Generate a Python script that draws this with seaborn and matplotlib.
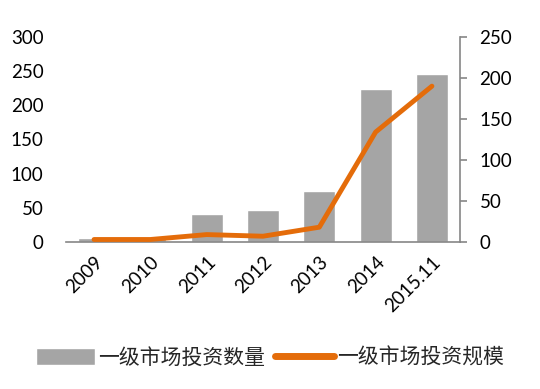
import numpy as np
import pandas as pd
import matplotlib
matplotlib.use("Agg")
import matplotlib.pyplot as plt
import seaborn as sns

sns.set_theme(style="white")
plt.rcParams['font.family'] = ['Lato', 'Noto Sans CJK SC', 'DejaVu Sans']

years = ['2009', '2010', '2011', '2012', '2013', '2014', '2015.11']
deal_count = [6, 6, 41, 47, 74, 224, 246]      # 一级市场投资数量 (left axis)
deal_size = [3, 3, 9, 7, 18, 134, 190]          # 一级市场投资规模 (right axis)

bar_color = '#A5A5A5'
line_color = '#E46C0A'
axis_gray = '#868686'

df = pd.DataFrame({'year': years, 'count': deal_count, 'size': deal_size})

fig = plt.figure(figsize=(5.4, 3.89), dpi=100)
ax = fig.add_axes([0.122, 0.378, 0.730, 0.527])

sns.barplot(data=df, x='year', y='count', color=bar_color, width=0.57,
            saturation=1, ax=ax, label='一级市场投资数量')
ax.set_ylim(0, 300)
ax.set_yticks(range(0, 301, 50))
ax.set_xlabel('')
ax.set_ylabel('')
ax.set_xlim(-0.5, len(years) - 0.5)

ax2 = ax.twinx()
sns.lineplot(x=np.arange(len(years)), y=df['size'], color=line_color,
             linewidth=3.5, ax=ax2, label='一级市场投资规模', legend=False)
ax2.set_ylim(0, 250)
ax2.set_yticks(range(0, 251, 50))
ax2.set_ylabel('')

for a in (ax, ax2):
    for s in a.spines.values():
        s.set_visible(False)
ax.spines['bottom'].set_visible(True)
ax.spines['bottom'].set_color(axis_gray)
ax.spines['bottom'].set_linewidth(1.2)
ax2.spines['right'].set_visible(True)
ax2.spines['right'].set_color(axis_gray)
ax2.spines['right'].set_linewidth(1.2)

ax.tick_params(axis='y', length=0, labelsize=13.5, pad=16, labelcolor='black')
ax.tick_params(axis='x', length=0, labelsize=13.5, pad=8, labelcolor='black')
ax2.tick_params(axis='y', direction='out', length=5, width=1.2, color=axis_gray,
                labelsize=13.5, pad=9, labelcolor='black')
ax.set_xticks(range(len(years)))
ax.set_xticklabels(years, rotation=45, ha='right', rotation_mode='anchor')

h1, l1 = ax.get_legend_handles_labels()
h2, l2 = ax2.get_legend_handles_labels()
if ax.get_legend() is not None:
    ax.get_legend().remove()
leg = fig.legend(h1 + h2, l1 + l2, loc='center', bbox_to_anchor=(0.5, 0.08),
                 ncol=2, frameon=False, handlelength=2.8, handleheight=0.9,
                 handletextpad=0.15, columnspacing=0.5,
                 prop={'family': ['Noto Sans CJK SC', 'DejaVu Sans'], 'size': 15})
leg.get_lines()[0].set_linewidth(5) if leg.get_lines() else None

fig.savefig('out.png', dpi=100)
